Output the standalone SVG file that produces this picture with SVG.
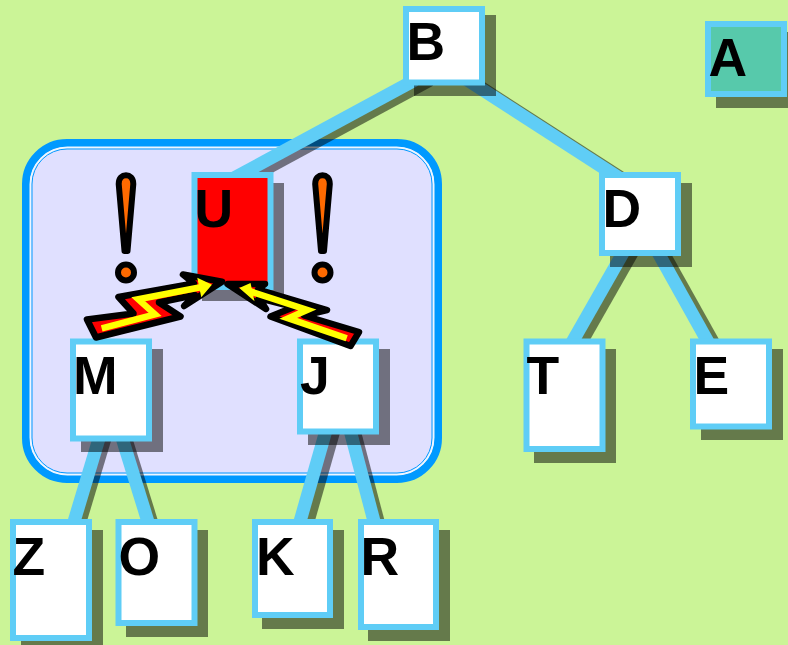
<svg xmlns="http://www.w3.org/2000/svg" width="788" height="645" viewBox="0 0 788 645">
<style>
.sh{fill:#000;fill-opacity:.5}
.box{fill:#fff;stroke:#5fcdf6;stroke-width:6}
text{font-family:"Liberation Sans",Arial,sans-serif;font-weight:700;font-size:53.500px;fill:#000}
.edge{stroke:#5fcdf6;stroke-width:13;fill:none}
.eshadow{stroke:#000;stroke-opacity:.5;stroke-width:13;fill:none}
.bang{fill:#ff6a00;stroke:#000;stroke-width:6;stroke-linejoin:round}
.bolt{fill:#f00;stroke:#000;stroke-width:6.500;stroke-linejoin:round}
.zig{fill:none;stroke:#ff0;stroke-width:6.500}
.head{fill:#ff0;stroke:#ff0;stroke-width:1.500}
</style>
<rect width="788" height="645" fill="#cbf497"/>
<g id="group-box">
<rect x="26" y="143" width="412" height="336" rx="41" ry="41" fill="#e0e0ff" stroke="#0099ff" stroke-width="8"/>
<rect x="30.500" y="147.500" width="403" height="327" rx="37" ry="37" fill="none" stroke="#eef6ff" stroke-width="2"/>
<rect x="32" y="149" width="400" height="324" rx="35" ry="35" fill="none" stroke="#0099ff" stroke-width="1"/>
</g>
<g id="connectors">
<line class="eshadow" x1="430" y1="80" x2="249" y2="178"/>
<line class="eshadow" x1="462" y1="75.300" x2="624" y2="179.700"/>
<line class="eshadow" x1="639.400" y1="240" x2="577" y2="349.500"/>
<line class="eshadow" x1="656" y1="240" x2="713" y2="342"/>
<line class="eshadow" x1="110.600" y1="420" x2="79" y2="525"/>
<line class="eshadow" x1="120" y1="420" x2="152.500" y2="525"/>
<line class="eshadow" x1="338.400" y1="415" x2="307" y2="525"/>
<line class="eshadow" x1="350" y1="415" x2="379" y2="525"/>
<line class="edge" x1="415" y1="80" x2="234" y2="178"/>
<line class="edge" x1="460" y1="75.300" x2="622" y2="179.700"/>
<line class="edge" x1="630.400" y1="240" x2="568" y2="349.500"/>
<line class="edge" x1="651" y1="240" x2="708" y2="342"/>
<line class="edge" x1="104.600" y1="420" x2="73" y2="525"/>
<line class="edge" x1="116.500" y1="420" x2="149" y2="525"/>
<line class="edge" x1="330.400" y1="415" x2="299" y2="525"/>
<line class="edge" x1="346" y1="415" x2="375" y2="525"/>
</g>
<g id="node-B"><rect class="sh" x="414" y="15" width="82" height="81"/><rect class="box" x="406" y="9" width="76" height="73.500"/><text x="406.500" y="60">B</text></g>
<g id="node-A"><rect class="sh" x="716" y="32" width="82" height="76"/><rect class="box" style="fill:#57c9ab" x="708" y="24" width="76" height="70"/><text x="708.500" y="76">A</text></g>
<g id="node-U"><rect class="sh" x="202" y="183" width="82" height="118"/><rect class="box" style="fill:#f00" x="194.500" y="175" width="76" height="112"/><text x="194.500" y="227">U</text></g>
<g id="node-D"><rect class="sh" x="610" y="183" width="82" height="84"/><rect class="box" x="602" y="175" width="76" height="78"/><text x="602.500" y="227">D</text></g>
<g id="node-M"><rect class="sh" x="81" y="349" width="82" height="103"/><rect class="box" x="73" y="341.500" width="76" height="97"/><text x="73" y="393.500">M</text></g>
<g id="node-J"><rect class="sh" x="308" y="349" width="82" height="96"/><rect class="box" x="300" y="341.500" width="76" height="90"/><text x="300" y="393.500">J</text></g>
<g id="node-T"><rect class="sh" x="534" y="349" width="82" height="114"/><rect class="box" x="526.500" y="341.500" width="76" height="107.500"/><text x="526.500" y="393.500">T</text></g>
<g id="node-E"><rect class="sh" x="701" y="349" width="82" height="91"/><rect class="box" x="693" y="341.500" width="76" height="85"/><text x="693.500" y="393.500">E</text></g>
<g id="node-Z"><rect class="sh" x="21" y="530" width="82" height="122"/><rect class="box" x="13" y="522" width="76" height="116"/><text x="12.500" y="575">Z</text></g>
<g id="node-O"><rect class="sh" x="126" y="530" width="82" height="107"/><rect class="box" x="118.500" y="522" width="76" height="101"/><text x="118.500" y="575">O</text></g>
<g id="node-K"><rect class="sh" x="262" y="530" width="82" height="99"/><rect class="box" x="255" y="522" width="75" height="93"/><text x="256" y="575">K</text></g>
<g id="node-R"><rect class="sh" x="368" y="530" width="82" height="111"/><rect class="box" x="361" y="522" width="75" height="105"/><text x="360.500" y="575">R</text></g>
<g id="warnings">
<path class="bang" d="M118.700,184C118.700,178 122.300,175.300 126,175.300C129.700,175.300 133.300,178 133.300,184L127.500,251H124.500Z"/>
<circle class="bang" cx="126" cy="272.500" r="8"/>
<path class="bang" d="M315.200,184C315.200,178 318.800,175.300 322.500,175.300C326.200,175.300 329.800,178 329.800,184L324,251H321Z"/>
<circle class="bang" cx="322.500" cy="272.500" r="8"/>
</g>
<g id="bolt-M">
<path class="bolt" d="M87,319.500L133.500,313.500L118.500,297L194,283.500L183,274.500L222,281.700L184,306L195,295L159,302.500L180.500,316.500L96,337.500Z"/>
<path class="zig" d="M101.700,328.300L155,314.300L138.300,299.300L203.300,286.700"/>
<path class="head" d="M210.700,285L198.300,279L201.700,295.700Z"/>
</g>
<g id="bolt-J">
<path class="bolt" d="M227.500,284L265,284L258,289.500L327,310L304,315.500L359,332L350.500,346L270.500,316.500L294,307L259,298L266,309Z"/>
<path class="zig" d="M346.700,338.300L288.300,318.300L307.300,310L248.300,290.700"/>
<path class="head" d="M240.700,288.300L250,284L253.300,299.300Z"/>
</g>
</svg>
